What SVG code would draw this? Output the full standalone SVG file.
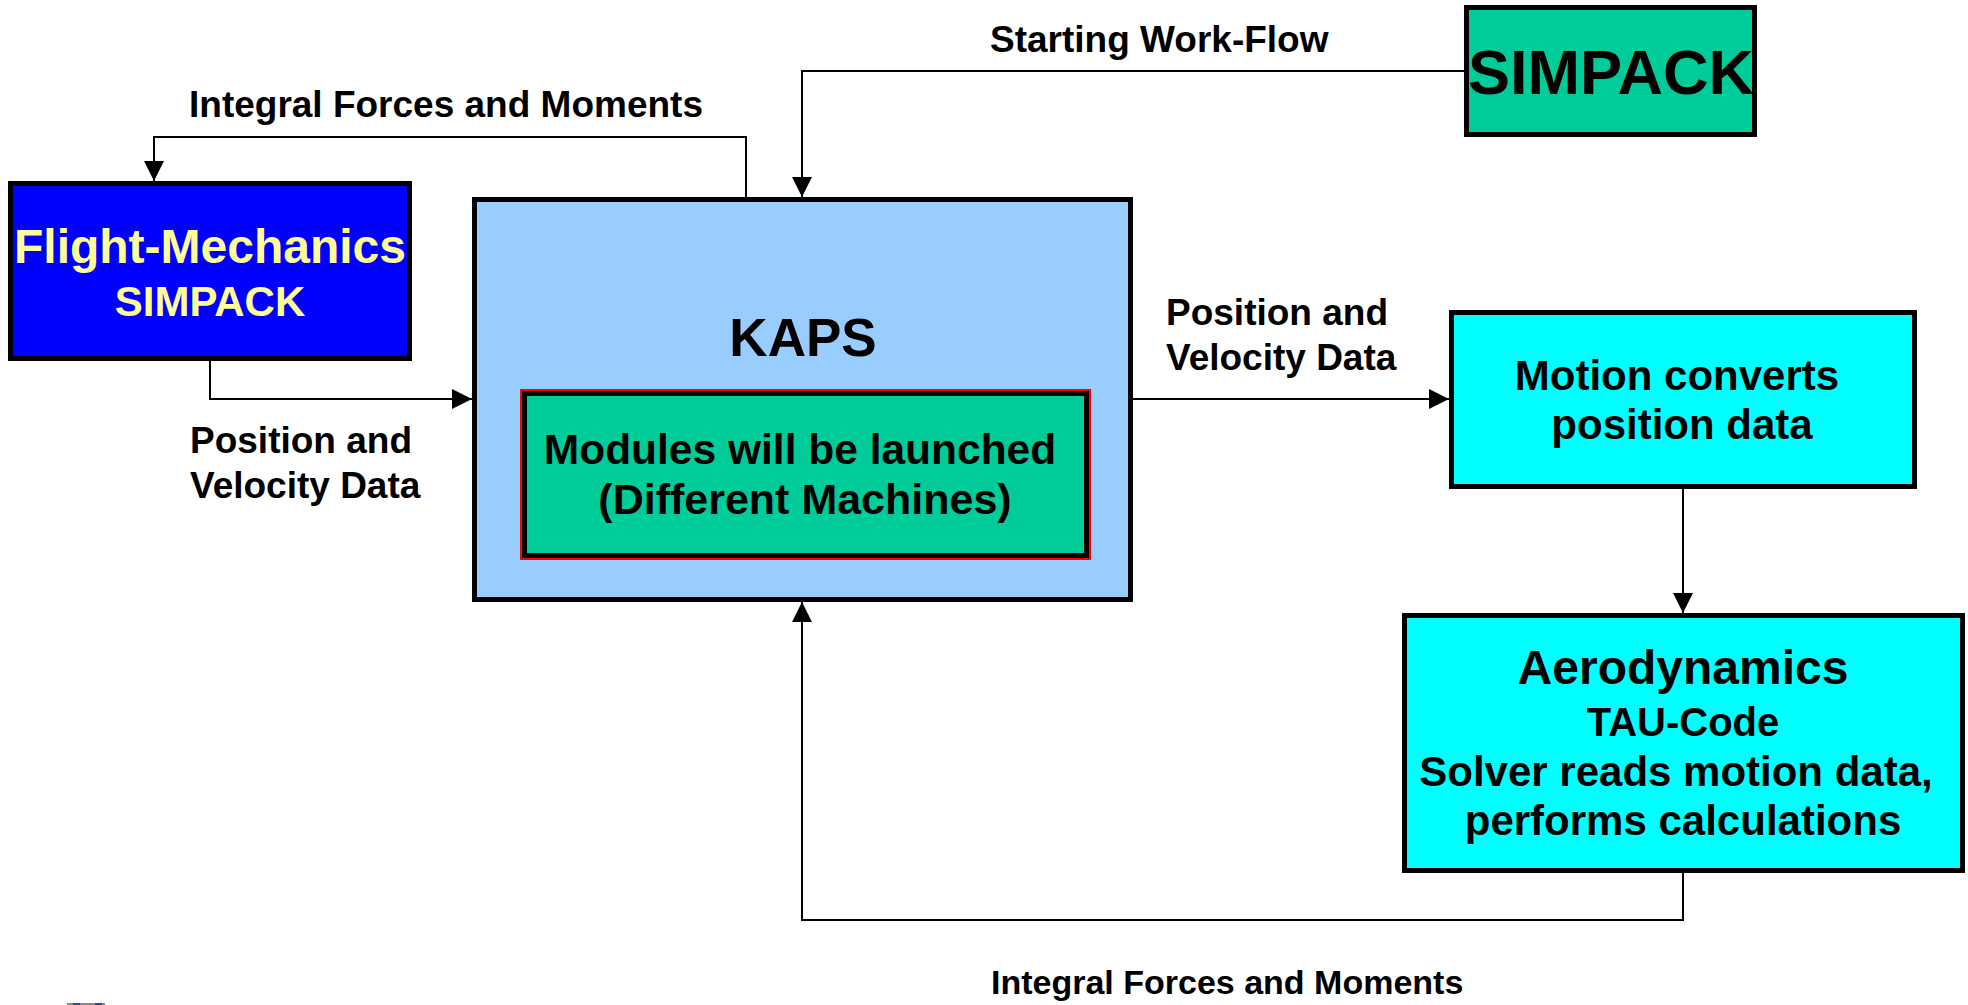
<svg xmlns="http://www.w3.org/2000/svg" width="1968" height="1005" viewBox="0 0 1968 1005">
<style>
text{font-family:"Liberation Sans",Arial,sans-serif;font-weight:bold;fill:#000}
.box{stroke:#000;stroke-width:5}
.c{text-anchor:middle}
.lbl{font-size:37px}
.conn{fill:none;stroke:#000;stroke-width:2}
</style>
<defs>
<marker id="arr" viewBox="0 0 20 20" refX="20" refY="10" markerWidth="20" markerHeight="20" markerUnits="userSpaceOnUse" orient="auto">
<path d="M0,0 L20,10 L0,20 z" fill="#000"/>
</marker>
</defs>
<rect width="1968" height="1005" fill="#fff"/>

<g id="connectors">
<path class="conn" d="M746,197 V137 H154 V181" marker-end="url(#arr)"/>
<path class="conn" d="M1464,71 H802 V197" marker-end="url(#arr)"/>
<path class="conn" d="M210,361 V399 H472" marker-end="url(#arr)"/>
<path class="conn" d="M1133,399 H1449" marker-end="url(#arr)"/>
<path class="conn" d="M1683,489 V613" marker-end="url(#arr)"/>
<path class="conn" d="M1683,873 V920 H802 V602" marker-end="url(#arr)"/>
</g>

<g id="labels">
<text class="lbl" x="189" y="117">Integral Forces and Moments</text>
<text class="lbl" x="990" y="52">Starting Work-Flow</text>
<text class="lbl" x="190" y="453">Position and</text>
<text class="lbl" x="190" y="498">Velocity Data</text>
<text class="lbl" x="1166" y="325">Position and</text>
<text class="lbl" x="1166" y="370">Velocity Data</text>
<text x="991" y="994" font-size="34">Integral Forces and Moments</text>
</g>

<g id="flight-mechanics">
<rect class="box" x="10.5" y="183.5" width="399" height="175" fill="#0000FF"/>
<text class="c" x="210" y="263" font-size="48" style="fill:#FFFF99">Flight-Mechanics</text>
<text class="c" x="210" y="316" font-size="42" style="fill:#FFFF99">SIMPACK</text>
</g>

<g id="kaps">
<rect class="box" x="474.5" y="199.5" width="656" height="400" fill="#99CCFF"/>
<text class="c" x="803" y="356" font-size="53">KAPS</text>
</g>

<g id="modules">
<rect x="521" y="390" width="569" height="169" fill="none" stroke="#FF0000" stroke-width="2"/>
<rect class="box" x="524.5" y="393.5" width="562" height="162" fill="#00CC99"/>
<text class="c" x="800" y="464" font-size="42.5">Modules will be launched</text>
<text class="c" x="805" y="514" font-size="43">(Different Machines)</text>
</g>

<g id="simpack">
<rect class="box" x="1466.5" y="7.5" width="288" height="127" fill="#00CC99"/>
<text class="c" x="1611" y="94" font-size="63">SIMPACK</text>
</g>

<g id="motion">
<rect class="box" x="1451.5" y="312.5" width="463" height="174" fill="#00FFFF"/>
<text class="c" x="1677" y="390" font-size="42">Motion converts</text>
<text class="c" x="1682" y="439" font-size="42">position data</text>
</g>

<g id="aerodynamics">
<rect class="box" x="1404.5" y="615.5" width="558" height="255" fill="#00FFFF"/>
<text class="c" x="1683" y="684" font-size="48">Aerodynamics</text>
<text class="c" x="1683" y="736" font-size="40">TAU-Code</text>
<text class="c" x="1676" y="786" font-size="42">Solver reads motion data,</text>
<text class="c" x="1683" y="835" font-size="42">performs calculations</text>
</g>

<g id="logo-fragment">
<rect x="67" y="1003" width="38" height="2" fill="#8a8a8a"/>
<rect x="73" y="1003" width="7" height="2" fill="#1f4e9a"/>
<rect x="95" y="1003" width="7" height="2" fill="#1f4e9a"/>
</g>
</svg>
